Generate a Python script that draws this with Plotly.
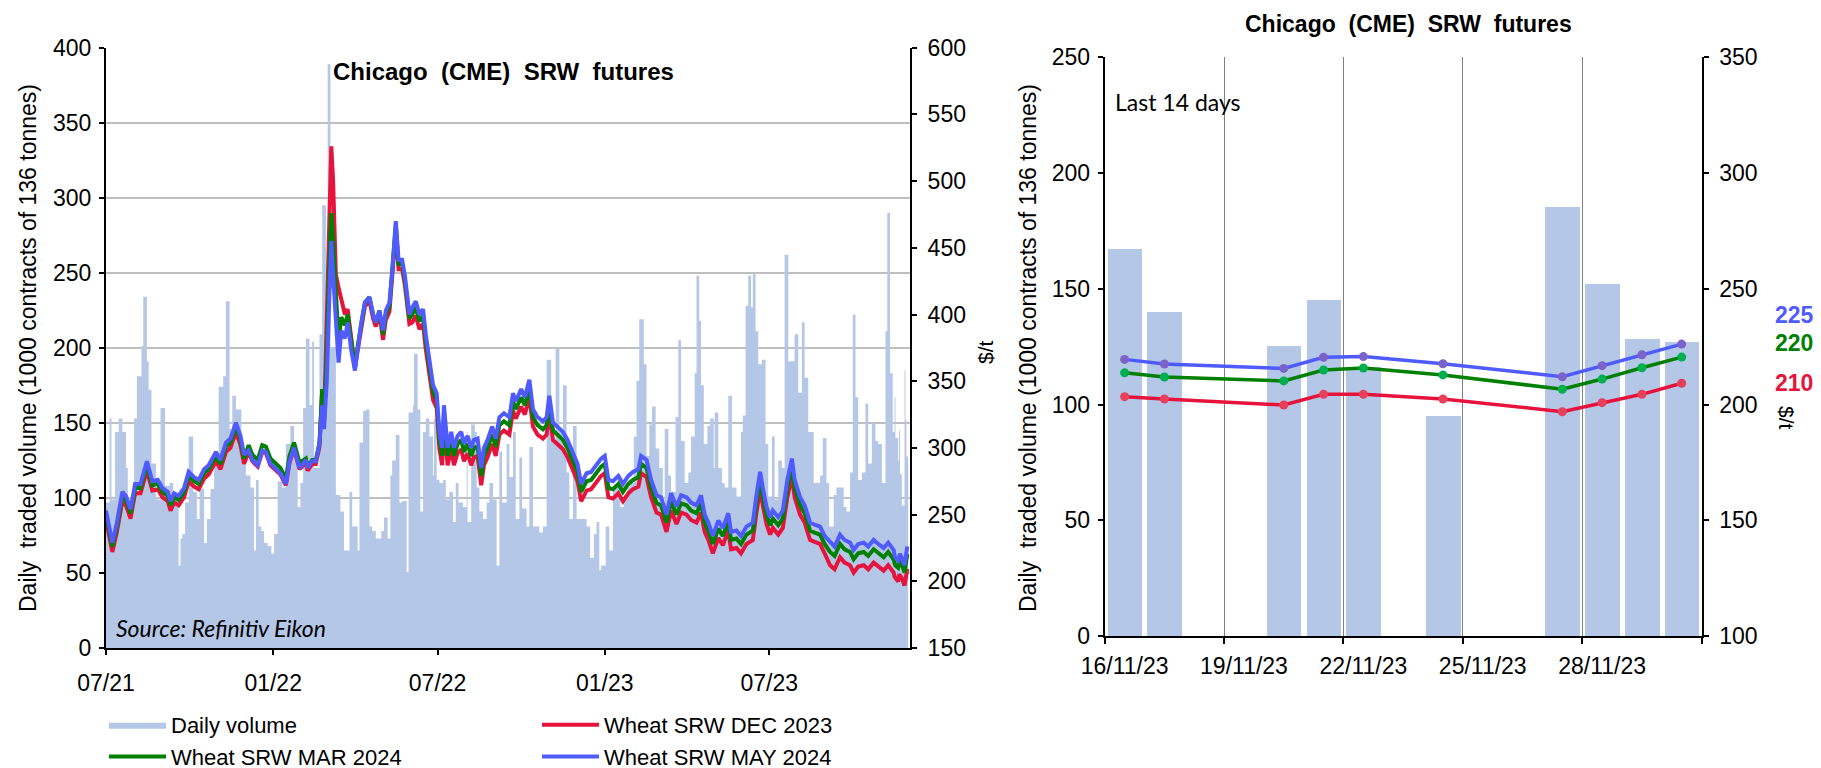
import pandas as pd
import plotly.graph_objects as go

W, H = 1821, 768
OFF = 8  # page body margin of the browser
FONT = "Liberation Sans"

# ---------------- Left chart data ----------------
vol_dates = [
    "2021-07-01", "2021-07-05", "2021-07-07", "2021-07-11", "2021-07-15", "2021-07-19", "2021-07-23", "2021-07-25",
    "2021-08-01", "2021-08-04", "2021-08-09", "2021-08-11", "2021-08-15", "2021-08-17", "2021-08-20", "2021-08-25",
    "2021-08-30", "2021-09-04", "2021-09-09", "2021-09-13", "2021-09-19", "2021-09-21", "2021-09-23", "2021-09-26",
    "2021-09-30", "2021-10-05", "2021-10-09", "2021-10-12", "2021-10-17", "2021-10-20", "2021-10-24", "2021-10-28",
    "2021-11-02", "2021-11-07", "2021-11-10", "2021-11-14", "2021-11-17", "2021-11-21", "2021-11-27", "2021-12-02",
    "2021-12-07", "2021-12-11", "2021-12-13", "2021-12-16", "2021-12-19", "2021-12-22", "2021-12-26", "2021-12-30",
    "2022-01-02", "2022-01-06", "2022-01-11", "2022-01-15", "2022-01-20", "2022-01-24", "2022-01-28", "2022-01-31",
    "2022-02-03", "2022-02-06", "2022-02-10", "2022-02-13", "2022-02-15", "2022-02-21", "2022-02-24", "2022-02-28",
    "2022-03-02", "2022-03-05", "2022-03-11", "2022-03-16", "2022-03-20", "2022-03-26", "2022-03-29", "2022-04-04",
    "2022-04-06", "2022-04-10", "2022-04-13", "2022-04-17", "2022-04-20", "2022-04-24", "2022-04-30", "2022-05-03",
    "2022-05-07", "2022-05-10", "2022-05-12", "2022-05-16", "2022-05-20", "2022-05-23", "2022-05-28", "2022-05-30",
    "2022-06-04", "2022-06-05", "2022-06-09", "2022-06-12", "2022-06-15", "2022-06-18", "2022-06-22", "2022-06-26",
    "2022-06-27", "2022-06-30", "2022-07-03", "2022-07-07", "2022-07-10", "2022-07-14", "2022-07-18", "2022-07-21",
    "2022-07-24", "2022-07-29", "2022-08-02", "2022-08-03", "2022-08-07", "2022-08-11", "2022-08-13", "2022-08-16",
    "2022-08-20", "2022-08-24", "2022-08-27", "2022-08-31", "2022-09-04", "2022-09-07", "2022-09-10", "2022-09-15",
    "2022-09-18", "2022-09-22", "2022-09-25", "2022-09-29", "2022-10-02", "2022-10-07", "2022-10-10", "2022-10-14",
    "2022-10-21", "2022-10-25", "2022-10-29", "2022-11-03", "2022-11-08", "2022-11-12", "2022-11-16", "2022-11-20",
    "2022-11-23", "2022-11-27", "2022-12-01", "2022-12-12", "2022-12-16", "2022-12-20", "2022-12-23", "2022-12-26",
    "2022-12-28", "2023-01-02", "2023-01-06", "2023-01-10", "2023-01-15", "2023-01-18", "2023-01-22", "2023-01-26",
    "2023-01-29", "2023-02-02", "2023-02-05", "2023-02-08", "2023-02-13", "2023-02-16", "2023-02-19", "2023-02-22",
    "2023-02-26", "2023-03-02", "2023-03-06", "2023-03-08", "2023-03-12", "2023-03-15", "2023-03-20", "2023-03-23",
    "2023-03-26", "2023-03-30", "2023-04-03", "2023-04-06", "2023-04-10", "2023-04-12", "2023-04-15", "2023-04-17",
    "2023-04-20", "2023-04-24", "2023-04-27", "2023-05-01", "2023-05-02", "2023-05-06", "2023-05-10", "2023-05-13",
    "2023-05-17", "2023-05-21", "2023-05-26", "2023-05-31", "2023-06-02", "2023-06-05", "2023-06-08", "2023-06-11",
    "2023-06-13", "2023-06-16", "2023-06-19", "2023-06-23", "2023-06-27", "2023-06-30", "2023-07-04", "2023-07-07",
    "2023-07-11", "2023-07-15", "2023-07-18", "2023-07-22", "2023-07-29", "2023-08-02", "2023-08-06", "2023-08-09",
    "2023-08-13", "2023-08-19", "2023-08-26", "2023-08-29", "2023-09-02", "2023-09-05", "2023-09-10", "2023-09-13",
    "2023-09-21", "2023-09-24", "2023-09-28", "2023-10-01", "2023-10-04", "2023-10-07", "2023-10-11", "2023-10-15",
    "2023-10-18", "2023-10-22", "2023-10-26", "2023-10-29", "2023-11-02", "2023-11-06", "2023-11-08", "2023-11-11",
    "2023-11-14",
]
vol_values = [
    97, 153, 99, 144, 153, 144, 120, 97,
    153, 181, 201, 234, 191, 172, 123, 99,
    160, 108, 110, 102, 55, 73, 76, 97,
    141, 104, 86, 106, 70, 86, 106, 123,
    174, 181, 231, 146, 168, 159, 131, 115,
    107, 65, 112, 81, 78, 70, 68, 63,
    76, 111, 107, 136, 148, 128, 94, 110,
    160, 206, 162, 204, 120, 209, 295, 170,
    389, 200, 102, 91, 65, 104, 81, 65,
    137, 158, 159, 81, 78, 73, 78, 87,
    73, 115, 125, 142, 97, 98, 50, 157,
    162, 196, 159, 91, 144, 153, 141, 115,
    153, 112, 110, 112, 99, 104, 84, 110,
    97, 94, 144, 84, 149, 144, 107, 91,
    86, 97, 110, 99, 55, 131, 97, 136,
    114, 144, 86, 127, 93, 81, 134, 81,
    77, 81, 192, 138, 200, 144, 175, 117,
    86, 148, 86, 81, 60, 76, 84, 52,
    55, 81, 65, 107, 112, 94, 102, 107,
    110, 141, 178, 219, 189, 128, 149, 161,
    133, 120, 91, 146, 115, 104, 154, 205,
    138, 110, 117, 141, 183, 248, 218, 175,
    136, 148, 153, 120, 157, 120, 110, 107,
    168, 107, 101, 144, 155, 228, 248, 227,
    249, 211, 189, 192, 136, 101, 141, 99,
    125, 120, 262, 191, 209, 170, 217, 180,
    144, 110, 115, 140, 110, 81, 102, 107,
    94, 91, 117, 222, 167, 112, 117, 163,
    123, 150, 138, 136, 110, 211, 290, 183,
    144,
]

price_dates = [
    "2021-07-01", "2021-07-08", "2021-07-13", "2021-07-19", "2021-07-23", "2021-07-28", "2021-08-02", "2021-08-08",
    "2021-08-15", "2021-08-21", "2021-08-27", "2021-09-01", "2021-09-07", "2021-09-10", "2021-09-14", "2021-09-19",
    "2021-09-25", "2021-09-30", "2021-10-06", "2021-10-11", "2021-10-17", "2021-10-22", "2021-10-30", "2021-11-04",
    "2021-11-10", "2021-11-15", "2021-11-21", "2021-11-26", "2021-11-30", "2021-12-05", "2021-12-09", "2021-12-15",
    "2021-12-20", "2021-12-24", "2021-12-29", "2022-01-04", "2022-01-09", "2022-01-15", "2022-01-19", "2022-01-24",
    "2022-01-30", "2022-02-06", "2022-02-08", "2022-02-13", "2022-02-17", "2022-02-21", "2022-02-24", "2022-02-26",
    "2022-03-01", "2022-03-04", "2022-03-06", "2022-03-08", "2022-03-11", "2022-03-14", "2022-03-17", "2022-03-21",
    "2022-03-24", "2022-03-28", "2022-04-01", "2022-04-04", "2022-04-08", "2022-04-12", "2022-04-17", "2022-04-21",
    "2022-04-24", "2022-04-28", "2022-05-02", "2022-05-05", "2022-05-09", "2022-05-12", "2022-05-16", "2022-05-19",
    "2022-05-23", "2022-05-26", "2022-05-31", "2022-06-03", "2022-06-07", "2022-06-11", "2022-06-15", "2022-06-18",
    "2022-06-22", "2022-06-26", "2022-06-30", "2022-07-03", "2022-07-06", "2022-07-08", "2022-07-12", "2022-07-16",
    "2022-07-19", "2022-07-23", "2022-07-27", "2022-07-30", "2022-08-03", "2022-08-07", "2022-08-10", "2022-08-14",
    "2022-08-18", "2022-08-21", "2022-08-25", "2022-08-30", "2022-09-03", "2022-09-07", "2022-09-12", "2022-09-18",
    "2022-09-22", "2022-09-25", "2022-10-01", "2022-10-05", "2022-10-10", "2022-10-14", "2022-10-19", "2022-10-25",
    "2022-10-29", "2022-11-01", "2022-11-05", "2022-11-10", "2022-11-16", "2022-11-21", "2022-11-27", "2022-12-02",
    "2022-12-06", "2022-12-12", "2022-12-17", "2022-12-23", "2022-12-28", "2023-01-01", "2023-01-05", "2023-01-10",
    "2023-01-16", "2023-01-21", "2023-01-27", "2023-02-01", "2023-02-07", "2023-02-10", "2023-02-16", "2023-02-21",
    "2023-02-27", "2023-03-04", "2023-03-10", "2023-03-15", "2023-03-21", "2023-03-26", "2023-04-01", "2023-04-06",
    "2023-04-12", "2023-04-17", "2023-04-21", "2023-04-25", "2023-04-30", "2023-05-06", "2023-05-11", "2023-05-17",
    "2023-05-20", "2023-05-26", "2023-05-31", "2023-06-06", "2023-06-13", "2023-06-17", "2023-06-21", "2023-06-24",
    "2023-06-28", "2023-07-02", "2023-07-05", "2023-07-11", "2023-07-16", "2023-07-21", "2023-07-26", "2023-07-29",
    "2023-08-04", "2023-08-09", "2023-08-15", "2023-08-20", "2023-08-26", "2023-08-31", "2023-09-06", "2023-09-11",
    "2023-09-17", "2023-09-22", "2023-09-28", "2023-10-02", "2023-10-07", "2023-10-13", "2023-10-18", "2023-10-24",
    "2023-10-29", "2023-11-04", "2023-11-09", "2023-11-15",
]
may24 = [
    253, 229, 244, 267, 264, 254, 273, 273,
    290, 275, 276, 270, 267, 260, 266, 264,
    270, 282, 278, 276, 284, 287, 297, 291,
    304, 307, 319, 309, 295, 298, 291, 287,
    298, 297, 288, 284, 281, 273, 290, 300,
    285, 291, 285, 290, 290, 303, 332, 314,
    350, 417, 455, 429, 394, 364, 388, 382,
    394, 373, 358, 376, 394, 409, 413, 400,
    394, 403, 388, 403, 409, 432, 470, 441,
    441, 429, 400, 405, 410, 400, 404, 385,
    364, 347, 341, 312, 300, 332, 300, 312,
    300, 309, 312, 303, 309, 300, 306, 307,
    285, 300, 306, 316, 307, 323, 326, 323,
    341, 335, 344, 338, 351, 329, 323, 320,
    323, 339, 319, 316, 312, 306, 297, 288,
    273, 281, 282, 288, 292, 294, 276, 275,
    279, 273, 279, 282, 284, 294, 291, 276,
    264.5, 263, 250, 266, 256, 264.5, 263, 259,
    257, 264.5, 250, 244, 234, 245.5, 240, 251,
    237, 238, 234, 241, 244, 264.5, 282, 270,
    256, 248, 253, 248, 253, 276, 292, 276,
    263, 257, 244, 242.5, 241, 234, 229, 226,
    235, 231, 229, 223.5, 228, 229, 226, 231,
    228, 225, 229, 223.5,
]
mar24 = [
    250, 226, 241, 264, 261, 251, 270, 270,
    287, 272, 273, 267, 264, 257, 263, 261,
    267, 279, 275, 273, 281, 284, 294, 288,
    301, 304, 316, 306, 292, 302, 295, 291,
    302, 301, 292, 288, 285, 277, 294, 304,
    289, 292, 286, 291, 291, 304, 344, 320,
    370, 445, 476, 455, 410, 380, 398, 392,
    400, 378, 360, 376, 394, 409, 413, 400,
    394, 403, 385, 400, 406, 429, 467, 438,
    438, 426, 397, 400, 405, 395, 399, 380,
    359, 342, 336, 306, 294, 326, 294, 306,
    294, 303, 306, 297, 303, 294, 300, 301,
    279, 294, 300, 310, 301, 317, 320, 317,
    335, 329, 338, 332, 345, 323, 317, 314,
    317, 333, 313, 310, 306, 300, 291, 282,
    267, 275, 276, 282, 286, 288, 270, 269,
    273, 267, 273, 276, 278, 288, 285, 270,
    258.5, 257, 244, 260, 250, 258.5, 257, 253,
    251, 258.5, 244, 238, 228, 239.5, 234, 245,
    231, 232, 228, 235, 238, 258.5, 276, 264,
    250, 242, 247, 242, 247, 270, 286, 270,
    257, 251, 238, 236.5, 235, 228, 222, 219,
    228, 224, 222, 216.5, 221, 222, 219, 224,
    221, 218, 222, 216.5,
]
dec23 = [
    246, 222, 237, 260, 257, 247, 266, 266,
    283, 268, 269, 263, 260, 253, 259, 257,
    263, 275, 271, 269, 277, 280, 290, 284,
    297, 300, 312, 302, 288, 297, 290, 286,
    297, 296, 287, 283, 280, 272, 289, 299,
    284, 289, 283, 288, 288, 301, 344, 318,
    390, 480, 526, 500, 430, 420, 410, 400,
    404, 380, 360, 373, 391, 406, 410, 397,
    391, 400, 381, 396, 402, 425, 463, 434,
    434, 422, 393, 394, 399, 389, 393, 374,
    353, 336, 330, 299, 287, 319, 287, 299,
    287, 296, 299, 290, 296, 287, 293, 294,
    272, 287, 293, 303, 294, 310, 313, 310,
    328, 322, 331, 325, 338, 316, 310, 307,
    310, 326, 306, 303, 299, 293, 284, 275,
    260, 268, 269, 275, 279, 281, 263, 262,
    266, 260, 266, 269, 271, 281, 278, 263,
    251.5, 250, 237, 253, 243, 251.5, 250, 246,
    244, 251.5, 237, 231, 221, 232.5, 227, 238,
    224, 225, 221, 228, 231, 251.5, 269, 257,
    243, 235, 240, 235, 240, 263, 279, 263,
    250, 244, 231, 229.5, 228, 221, 212, 209,
    218, 214, 212, 206.5, 211, 212, 209, 214,
    211, 208, 212, 206.5,
]

# ---------------- Last 14 days (right chart) ----------------
last_dates = ["2023-11-16", "2023-11-17", "2023-11-20", "2023-11-21", "2023-11-22",
              "2023-11-24", "2023-11-27", "2023-11-28", "2023-11-29", "2023-11-30"]
last_vol = [167, 140, 125, 145, 116, 95, 185, 152, 128, 127]
last_dec23 = [203.4, 202.4, 199.8, 204.4, 204.4, 202.4, 196.9, 200.8, 204.4, 209.2]
last_mar24 = [213.7, 211.9, 210.2, 214.9, 215.8, 212.8, 206.6, 211.0, 215.9, 220.5]
last_may24 = [219.5, 217.5, 215.6, 220.4, 220.7, 217.6, 212.0, 216.8, 221.5, 226.1]
period_end = "2023-12-01"

left_ticks = ["2021-07-01", "2022-01-01", "2022-07-01", "2023-01-01", "2023-07-01"]
left_ticktext = ["07/21", "01/22", "07/22", "01/23", "07/23"]
right_ticks = ["2023-11-16", "2023-11-19", "2023-11-22", "2023-11-25", "2023-11-28"]
right_ticktext = ["16/11/23", "19/11/23", "22/11/23", "25/11/23", "28/11/23"]
end_labels = ["225", "220", "210"]

RED, GREEN, BLUE = "#E6143C", "#008000", "#4F5BFF"
VOL = "#B4C7E7"
DAY_MS = 86400000


def px(x):
    return (x - OFF) / W


def py(y):
    return 1 - (y - OFF) / H


fig = go.Figure()

# ---- left chart ----
fig.add_trace(go.Scatter(
    x=vol_dates + last_dates + [period_end], y=vol_values + last_vol + [last_vol[-1]],
    mode="lines", line=dict(shape="hv", width=0, color=VOL), fill="tozeroy", fillcolor=VOL,
    name="Daily volume", legend="legend", xaxis="x", yaxis="y"))
fig.add_trace(go.Scatter(x=price_dates + last_dates, y=dec23 + last_dec23, mode="lines",
                         line=dict(color=RED, width=4), name="Wheat SRW DEC 2023",
                         legend="legend2", xaxis="x", yaxis="y2"))
fig.add_trace(go.Scatter(x=price_dates + last_dates, y=mar24 + last_mar24, mode="lines",
                         line=dict(color=GREEN, width=4), name="Wheat SRW MAR 2024",
                         legend="legend", xaxis="x", yaxis="y2"))
fig.add_trace(go.Scatter(x=price_dates + last_dates, y=may24 + last_may24, mode="lines",
                         line=dict(color=BLUE, width=4), name="Wheat SRW MAY 2024",
                         legend="legend2", xaxis="x", yaxis="y2"))

# ---- right chart ----
noon = [pd.Timestamp(d) + pd.Timedelta(hours=12) for d in last_dates]
fig.add_trace(go.Bar(x=noon, y=last_vol, marker=dict(color=VOL, line=dict(width=0)),
                     width=0.87 * DAY_MS, showlegend=False, xaxis="x2", yaxis="y3"))
for vals, col, mcol in [(last_dec23, RED, "#E8405A"), (last_mar24, GREEN, "#00B050"),
                        (last_may24, BLUE, "#7B63C8")]:
    fig.add_trace(go.Scatter(x=noon, y=vals, mode="lines+markers",
                             line=dict(color=col, width=3.5),
                             marker=dict(color=mcol, size=9, line=dict(width=0)),
                             showlegend=False, xaxis="x2", yaxis="y4"))

tickfont = dict(family=FONT, size=23, color="black")
axis_common = dict(showline=True, linecolor="black", linewidth=2, ticks="outside",
                   tickcolor="black", tickwidth=2, ticklen=5, tickfont=tickfont,
                   zeroline=False, automargin=False)

fig.update_layout(
    width=W, height=H, margin=dict(l=0, r=0, t=0, b=0, autoexpand=False),
    paper_bgcolor="white", plot_bgcolor="rgba(0,0,0,0)",
    font=dict(family=FONT, size=23, color="black"),
    bargap=0,
    xaxis=dict(domain=[px(106), px(910)], anchor="y", type="date",
               range=["2021-07-01", "2023-12-03"], tickmode="array",
               tickvals=left_ticks, ticktext=left_ticktext, showgrid=False,
               ticklabelstandoff=8, **axis_common),
    yaxis=dict(domain=[py(648), py(47.7)], anchor="x", range=[0, 400], tickmode="linear",
               tick0=0, dtick=50, showgrid=True, gridcolor="#BFBFBF", gridwidth=2,
               ticklabelstandoff=3, **axis_common),
    yaxis2=dict(overlaying="y", side="right", anchor="x", range=[150, 600], tickmode="linear",
                tick0=150, dtick=50, showgrid=False, ticklabelstandoff=6, **axis_common),
    xaxis2=dict(domain=[px(1104.7), px(1701.6)], anchor="y3", type="date",
                range=["2023-11-16", period_end], tickmode="array",
                tickvals=[pd.Timestamp(d) + pd.Timedelta(hours=12) for d in right_ticks],
                ticktext=right_ticktext, showline=True, linecolor="black", linewidth=2,
                ticks="", showgrid=False, tickfont=tickfont, ticklabelstandoff=8,
                zeroline=False, automargin=False,
                minor=dict(ticks="outside", ticklen=6, tickwidth=2, tickcolor="black",
                           tick0="2023-11-16", dtick=3 * DAY_MS,
                           showgrid=True, gridcolor="#808080", gridwidth=1)),
    yaxis3=dict(domain=[py(636), py(57.3)], anchor="x2", range=[0, 250], tickmode="linear",
                tick0=0, dtick=50, showgrid=False, ticklabelstandoff=3, **axis_common),
    yaxis4=dict(overlaying="y3", side="right", anchor="x2", range=[100, 350], tickmode="linear",
                tick0=100, dtick=50, showgrid=False, ticklabelstandoff=6, **axis_common),
    legend=dict(x=px(104), y=py(704), xanchor="left", yanchor="top", orientation="v",
                font=dict(family=FONT, size=22), bgcolor="rgba(0,0,0,0)", itemwidth=57,
                tracegroupgap=0, traceorder="normal"),
    legend2=dict(x=px(537), y=py(704), xanchor="left", yanchor="top", orientation="v",
                 font=dict(family=FONT, size=22), bgcolor="rgba(0,0,0,0)", itemwidth=57,
                 tracegroupgap=0, traceorder="normal"),
)

ann = []
ann.append(dict(text="<b>Chicago\u00a0 (CME)\u00a0 SRW\u00a0 futures</b>", x=px(503.6), y=py(71),
                font=dict(family=FONT, size=24)))
ann.append(dict(text="<b>Chicago\u00a0 (CME)\u00a0 SRW\u00a0 futures</b>", x=px(1408), y=py(9),
                yanchor="top", font=dict(family=FONT, size=23)))
ann.append(dict(text="Source: Refinitiv Eikon", x=px(114), y=py(628), xanchor="left",
                font=dict(family="Lato", size=23, style="italic")))
ann.append(dict(text="Last 14 days", x=px(1113), y=py(102), xanchor="left",
                font=dict(family="Lato", size=23)))
ann.append(dict(text="Daily\u00a0 traded volume (1000 contracts of 136 tonnes)", x=px(28), y=py(348),
                textangle=-90, font=dict(family=FONT, size=23)))
ann.append(dict(text="Daily\u00a0 traded volume (1000 contracts of 136 tonnes)", x=px(1028), y=py(348),
                textangle=-90, font=dict(family=FONT, size=23)))
ann.append(dict(text="$/t", x=px(985), y=py(352), textangle=-90, font=dict(family=FONT, size=21)))
ann.append(dict(text="$/t", x=px(1787), y=py(418), textangle=90, font=dict(family=FONT, size=21)))
for txt, col, yy in zip(end_labels, [BLUE, GREEN, RED], [315, 343, 383]):
    ann.append(dict(text="<b>%s</b>" % txt, x=px(1794), y=py(yy), font=dict(family=FONT, size=23, color=col)))

for a in ann:
    a.update(xref="paper", yref="paper", showarrow=False)
    a.setdefault("xanchor", "center")
    a.setdefault("yanchor", "middle")
fig.update_layout(annotations=ann)

fig.write_html("out.html")
